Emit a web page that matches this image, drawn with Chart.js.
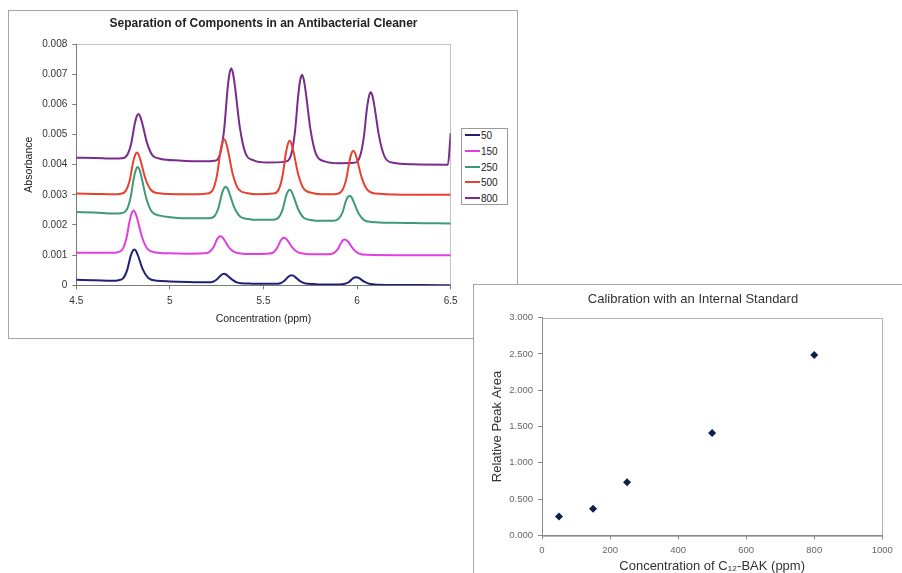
<!DOCTYPE html>
<html><head><meta charset="utf-8">
<script src="https://cdn.jsdelivr.net/npm/chart.js@4.4.1/dist/chart.umd.min.js"></script>
<style>
html,body{margin:0;padding:0;background:#fff;width:902px;height:573px;overflow:hidden;position:relative;font-family:'Liberation Sans',Arial,sans-serif;}
#box1{position:absolute;left:8px;top:10px;width:510px;height:329px;border:1px solid #a6a6a6;box-sizing:border-box;background:#fff;}
#box2{position:absolute;left:473px;top:284px;width:440px;height:300px;border:1px solid #a6a6a6;box-sizing:border-box;background:#fff;}
canvas{display:block;}
#legend{position:absolute;left:461px;top:128px;width:47px;height:77px;border:1px solid #9a9a9a;box-sizing:border-box;background:#fff;}
.li{position:absolute;left:3px;height:12px;font-size:10px;color:#222;line-height:12px;white-space:nowrap;}
.sw{display:inline-block;width:15px;height:2px;vertical-align:middle;margin-right:1px;position:relative;top:-1px;}
</style></head>
<body>
<div id="box1"><canvas id="c1" width="508" height="327"></canvas></div>
<div id="legend"></div>
<div id="box2"><canvas id="c2" width="438" height="298"></canvas></div>
<script>
// ---------- Chart 1: Separation of Components ----------
const title1 = 'Separation of Components in an Antibacterial Cleaner';
const seriesNames = ['50', '150', '250', '500', '800'];
const seriesColors = ['#1f2178', '#e23fe0', '#3f9a7a', '#e8412f', '#7a2b8c'];

const x50 = [4.5, 4.6, 4.69, 4.72, 4.75, 4.772, 4.79, 4.801, 4.81, 4.819, 4.83, 4.855, 4.885, 4.93, 5.0, 5.1, 5.20, 5.23, 5.252, 5.27, 5.281, 5.29, 5.299, 5.31, 5.335, 5.365, 5.41, 5.45, 5.52, 5.56, 5.59, 5.612, 5.63, 5.641, 5.65, 5.659, 5.67, 5.695, 5.725, 5.77, 5.8, 5.87, 5.905, 5.935, 5.957, 5.975, 5.986, 5.995, 6.004, 6.015, 6.04, 6.07, 6.115, 6.2, 6.35, 6.5];
const y50 = [0.00018, 0.00017, 0.00015, 0.00016, 0.00023, 0.00051, 0.00096, 0.00114, 0.00119, 0.00114, 0.00098, 0.00053, 0.00024, 0.00015, 0.00013, 0.00011, 0.00010, 0.00012, 0.00020, 0.00032, 0.00037, 0.00038, 0.00036, 0.00031, 0.00018, 0.00008, 0.00006, 0.00005, 0.00005, 0.00005, 0.00007, 0.00015, 0.00027, 0.00032, 0.00033, 0.00032, 0.00027, 0.00014, 0.00006, 0.00004, 0.00003, 0.00003, 0.00003, 0.00005, 0.00011, 0.00022, 0.00026, 0.00027, 0.00026, 0.00022, 0.00011, 0.00004, 0.00002, 0.00001, 0.00001, 0];

const x150 = [4.5, 4.6, 4.69, 4.716, 4.746, 4.768, 4.786, 4.797, 4.806, 4.815, 4.826, 4.851, 4.881, 4.926, 5.0, 5.1, 5.18, 5.21, 5.232, 5.25, 5.261, 5.27, 5.279, 5.29, 5.315, 5.345, 5.39, 5.45, 5.52, 5.55, 5.572, 5.59, 5.601, 5.61, 5.619, 5.63, 5.655, 5.685, 5.73, 5.78, 5.845, 5.875, 5.897, 5.915, 5.926, 5.935, 5.944, 5.955, 5.98, 6.01, 6.055, 6.2, 6.35, 6.5];
const y150 = [0.00108, 0.00108, 0.00108, 0.00109, 0.00119, 0.00157, 0.00217, 0.00241, 0.00248, 0.00241, 0.00220, 0.00160, 0.00120, 0.00109, 0.00106, 0.00105, 0.00106, 0.00110, 0.00125, 0.00150, 0.00160, 0.00163, 0.00160, 0.00151, 0.00126, 0.00110, 0.00105, 0.00104, 0.00105, 0.00108, 0.00123, 0.00146, 0.00155, 0.00158, 0.00155, 0.00147, 0.00124, 0.00109, 0.00104, 0.00103, 0.00103, 0.00107, 0.00120, 0.00141, 0.00150, 0.00152, 0.00149, 0.00142, 0.00120, 0.00105, 0.00101, 0.00100, 0.00100, 0.00100];

const x250 = [4.5, 4.6, 4.7, 4.738, 4.768, 4.79, 4.808, 4.819, 4.828, 4.837, 4.848, 4.873, 4.903, 4.948, 5.0, 5.12, 5.208, 5.238, 5.26, 5.278, 5.289, 5.298, 5.307, 5.318, 5.343, 5.373, 5.418, 5.47, 5.55, 5.58, 5.602, 5.62, 5.631, 5.64, 5.649, 5.66, 5.685, 5.715, 5.76, 5.8, 5.87, 5.90, 5.922, 5.94, 5.951, 5.96, 5.969, 5.98, 6.005, 6.035, 6.08, 6.2, 6.35, 6.5];
const y250 = [0.00243, 0.00241, 0.00238, 0.00239, 0.00249, 0.00291, 0.00358, 0.00384, 0.00392, 0.00384, 0.00359, 0.00290, 0.00244, 0.00231, 0.00226, 0.00222, 0.00222, 0.00229, 0.00258, 0.00304, 0.00322, 0.00327, 0.00322, 0.00305, 0.00259, 0.00229, 0.00220, 0.00217, 0.00217, 0.00224, 0.00251, 0.00295, 0.00312, 0.00317, 0.00312, 0.00296, 0.00253, 0.00224, 0.00216, 0.00214, 0.00214, 0.00220, 0.00242, 0.00279, 0.00293, 0.00297, 0.00293, 0.00279, 0.00242, 0.00217, 0.00210, 0.00207, 0.00206, 0.00205];

const x500 = [4.5, 4.6, 4.7, 4.734, 4.764, 4.786, 4.804, 4.815, 4.824, 4.833, 4.844, 4.869, 4.899, 4.944, 5.05, 5.15, 5.20, 5.23, 5.252, 5.27, 5.281, 5.29, 5.299, 5.31, 5.335, 5.365, 5.41, 5.47, 5.55, 5.58, 5.602, 5.62, 5.631, 5.64, 5.649, 5.66, 5.685, 5.715, 5.76, 5.82, 5.89, 5.92, 5.942, 5.96, 5.971, 5.98, 5.989, 6.0, 6.025, 6.055, 6.10, 6.2, 6.35, 6.5];
const y500 = [0.00304, 0.00303, 0.00302, 0.00303, 0.00313, 0.00350, 0.00410, 0.00433, 0.00440, 0.00433, 0.00412, 0.00354, 0.00316, 0.00305, 0.00302, 0.00302, 0.00304, 0.00317, 0.00366, 0.00444, 0.00475, 0.00484, 0.00475, 0.00448, 0.00371, 0.00320, 0.00306, 0.00302, 0.00304, 0.00316, 0.00364, 0.00440, 0.00470, 0.00479, 0.00470, 0.00444, 0.00369, 0.00320, 0.00306, 0.00302, 0.00303, 0.00314, 0.00352, 0.00414, 0.00439, 0.00446, 0.00439, 0.00417, 0.00356, 0.00316, 0.00304, 0.00301, 0.00300, 0.00300];

const x800 = [4.5, 4.6, 4.7, 4.742, 4.772, 4.794, 4.812, 4.823, 4.832, 4.841, 4.852, 4.877, 4.907, 4.952, 5.05, 5.17, 5.238, 5.268, 5.29, 5.308, 5.319, 5.328, 5.337, 5.348, 5.373, 5.403, 5.448, 5.52, 5.616, 5.646, 5.668, 5.686, 5.697, 5.706, 5.715, 5.726, 5.751, 5.781, 5.826, 5.9, 5.983, 6.013, 6.035, 6.053, 6.064, 6.073, 6.082, 6.093, 6.118, 6.148, 6.193, 6.3, 6.485, 6.5];
const y800 = [0.00423, 0.00422, 0.00420, 0.00421, 0.00432, 0.00472, 0.00535, 0.00561, 0.00568, 0.00560, 0.00538, 0.00474, 0.00431, 0.00419, 0.00414, 0.00411, 0.00413, 0.00435, 0.00518, 0.00651, 0.00704, 0.00719, 0.00703, 0.00657, 0.00526, 0.00439, 0.00414, 0.00407, 0.00410, 0.00430, 0.00509, 0.00633, 0.00683, 0.00697, 0.00682, 0.00639, 0.00516, 0.00434, 0.00411, 0.00405, 0.00406, 0.00423, 0.00487, 0.00588, 0.00628, 0.00640, 0.00628, 0.00592, 0.00492, 0.00425, 0.00406, 0.00401, 0.00400, 0.00505];

const xTickValues1 = [4.5, 5, 5.5, 6, 6.5];
const xTickLabels1 = ['4.5', '5', '5.5', '6', '6.5'];
const yTickValues1 = [0, 0.001, 0.002, 0.003, 0.004, 0.005, 0.006, 0.007, 0.008];
const yTickLabels1 = ['0', '0.001', '0.002', '0.003', '0.004', '0.005', '0.006', '0.007', '0.008'];

// ---------- Chart 2: Calibration ----------
const title2 = 'Calibration with an Internal Standard';
const calX = [50, 150, 250, 500, 800];
const calY = [0.26, 0.365, 0.73, 1.41, 2.485];
const xTickValues2 = [0, 200, 400, 600, 800, 1000];
const xTickLabels2 = ['0', '200', '400', '600', '800', '1000'];
const yTickValues2 = [0, 0.5, 1, 1.5, 2, 2.5, 3];
const yTickLabels2 = ['0.000', '0.500', '1.000', '1.500', '2.000', '2.500', '3.000'];

const F = "'Liberation Sans', Arial, sans-serif";
Chart.defaults.font.family = F;

const plotBorder = {
  id: 'plotBorder',
  beforeDraw(chart, args, opts) {
    const {ctx, chartArea: a} = chart;
    ctx.save();
    ctx.strokeStyle = opts.color || '#c0c0c0';
    ctx.lineWidth = 1;
    ctx.strokeRect(Math.round(a.left) + 0.5, Math.round(a.top) + 0.5, Math.round(a.right - a.left), Math.round(a.bottom - a.top));
    ctx.restore();
  }
};

const xs = [x50, x150, x250, x500, x800];
const ys = [y50, y150, y250, y500, y800];
const datasets1 = seriesNames.map((n, i) => ({
  label: n,
  data: xs[i].map((x, j) => ({x: x, y: ys[i][j]})),
  borderColor: seriesColors[i],
  backgroundColor: seriesColors[i],
  borderWidth: 2,
  pointRadius: 0,
  fill: false,
  cubicInterpolationMode: 'monotone'
}));

function fixedTicks(vals) {
  return function (s) { s.ticks = vals.map(v => ({value: v})); };
}

new Chart(document.getElementById('c1'), {
  type: 'line',
  data: {datasets: datasets1},
  plugins: [plotBorder],
  options: {
    responsive: false, animation: false, events: [],
    layout: {padding: {left: 0, right: 66.3, top: 0, bottom: 12.7}},
    plugins: {
      legend: {display: false},
      tooltip: {enabled: false},
      title: {display: true, text: title1, fullSize: false, color: '#222',
        font: {family: F, size: 12, weight: 'bold'}, padding: {top: 5.4, bottom: 13.2}},
      plotBorder: {color: '#c4c4c4'}
    },
    scales: {
      x: {
        type: 'linear', min: 4.5, max: 6.5,
        afterFit(s) { s.height = 40; },
        afterBuildTicks: fixedTicks(xTickValues1),
        ticks: {color: '#333', padding: 6, maxRotation: 0, autoSkip: false,
          font: {family: F, size: 10},
          callback: (v, i) => xTickLabels1[i]},
        grid: {drawOnChartArea: false, tickLength: 4, color: '#7a7a7a'},
        border: {color: '#7a7a7a'},
        title: {display: true, text: 'Concentration (ppm)', color: '#222',
          font: {family: F, size: 10.5}, padding: {top: 0, bottom: 0}}
      },
      y: {
        type: 'linear', min: 0, max: 0.008,
        afterFit(s) { s.width = 67.3; },
        afterBuildTicks: fixedTicks(yTickValues1),
        ticks: {color: '#333', padding: 5, font: {family: F, size: 10},
          callback: (v, i) => yTickLabels1[i]},
        grid: {drawOnChartArea: false, tickLength: 4, color: '#7a7a7a'},
        border: {color: '#7a7a7a'},
        title: {display: true, text: 'Absorbance', color: '#222',
          font: {family: F, size: 10.5}, padding: {top: 13.7, bottom: 0}}
      }
    }
  }
});

// legend (HTML, built from the series arrays)
const leg = document.getElementById('legend');
const legTops = [1, 17, 33, 48, 64];
seriesNames.forEach((n, i) => {
  const d = document.createElement('div');
  d.className = 'li';
  d.style.top = legTops[i] + 'px';
  d.innerHTML = '<span class="sw" style="background:' + seriesColors[i] + '"></span>' + n;
  leg.appendChild(d);
});

new Chart(document.getElementById('c2'), {
  type: 'scatter',
  data: {datasets: [{
    label: 'Relative Peak Area',
    data: calX.map((x, i) => ({x: x, y: calY[i]})),
    pointStyle: 'rectRot', pointRadius: 4,
    backgroundColor: '#0d1f4c', borderColor: '#0d1f4c', borderWidth: 0,
    showLine: false
  }]},
  plugins: [plotBorder],
  options: {
    responsive: false, animation: false, events: [],
    layout: {padding: {left: 0, right: 0, top: 0, bottom: 7.7}},
    plugins: {
      legend: {display: false},
      tooltip: {enabled: false},
      title: {display: true, text: title2, color: '#333',
        font: {family: F, size: 13, weight: 'normal'}, padding: {top: 6.2, bottom: 10.9}},
      plotBorder: {color: '#b4b4b4'}
    },
    scales: {
      x: {
        type: 'linear', min: 0, max: 1000, position: 'bottom',
        afterFit(s) { s.height = 40; },
        afterBuildTicks: fixedTicks(xTickValues2),
        ticks: {color: '#666', padding: 5, maxRotation: 0, autoSkip: false,
          font: {family: F, size: 9.5},
          callback: (v, i) => xTickLabels2[i]},
        grid: {drawOnChartArea: false, tickLength: 4, color: '#8a8a8a'},
        border: {color: '#8a8a8a'},
        title: {display: true, text: 'Concentration of C\u2081\u2082-BAK (ppm)', color: '#333',
          font: {family: F, size: 13}, padding: {top: 0, bottom: 1.5}}
      },
      y: {
        type: 'linear', min: 0, max: 3, position: 'left',
        afterFit(s) { s.width = 68; },
        afterBuildTicks: fixedTicks(yTickValues2),
        ticks: {color: '#666', padding: 5, font: {family: F, size: 9.5},
          callback: (v, i) => yTickLabels2[i]},
        grid: {drawOnChartArea: false, tickLength: 4, color: '#8a8a8a'},
        border: {color: '#8a8a8a'},
        title: {display: true, text: 'Relative Peak Area', color: '#333',
          font: {family: F, size: 13}, padding: {top: 15.2, bottom: 0}}
      },
      yr: {
        type: 'linear', position: 'right', display: true, min: 0, max: 3,
        afterFit(s) { s.width = 29.7; },
        ticks: {display: false},
        grid: {display: false, drawTicks: false},
        border: {display: false}
      }
    }
  }
});
</script>
</body></html>
